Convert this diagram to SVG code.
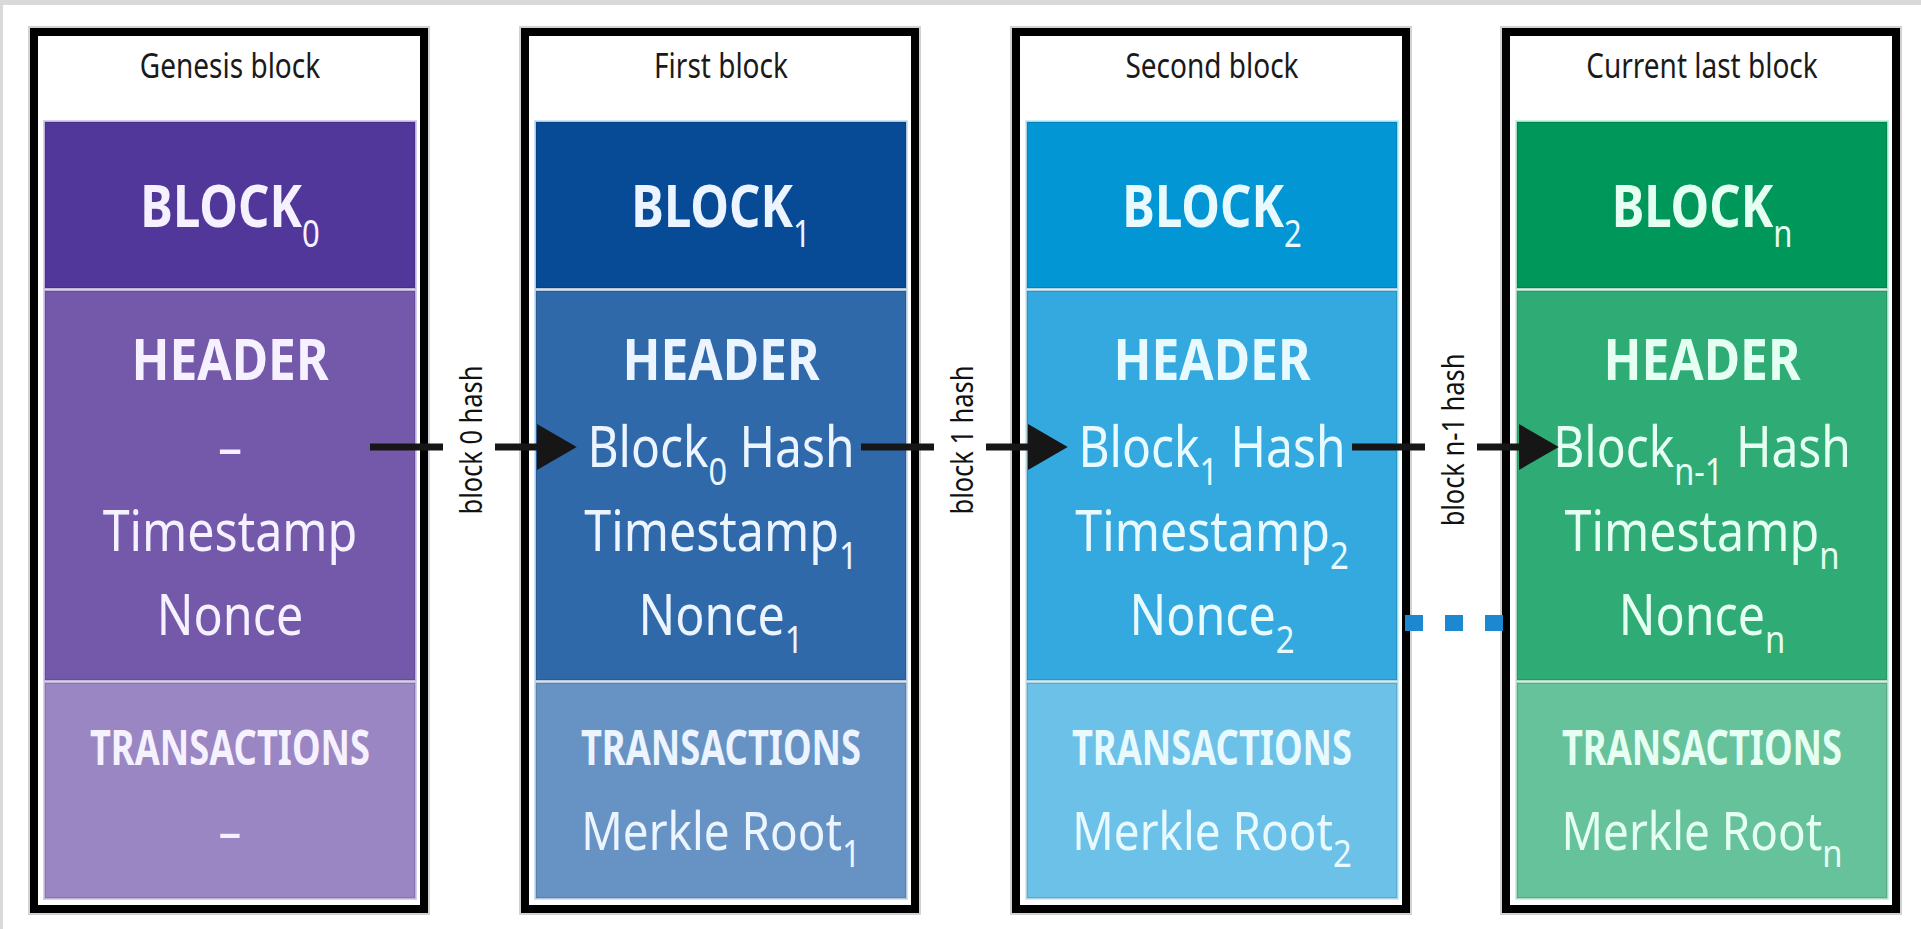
<svg xmlns="http://www.w3.org/2000/svg" width="1921" height="929" viewBox="0 0 1921 929">
<style>
.frame{fill:#fff;stroke:#000;stroke-width:8}
.shadow{fill:none;stroke:#d2d2d2;stroke-width:12}
.s1,.s2,.s3{stroke:rgba(0,0,0,0.12);stroke-width:2}
text{font-family:"Noto Sans","Liberation Sans",Arial,sans-serif;text-anchor:middle}
.title{font-size:35px;fill:#1a1a1a}
.big{font-size:60px;font-weight:bold}
.hd{font-size:57px;font-weight:bold}
.tx{font-size:48px;font-weight:bold}
.rg{font-size:56px}
.mk{font-size:53px}
.sub{font-size:38px;font-weight:normal}
.lbl{font-size:31px;fill:#111}
.ln{fill:none;stroke:#161616;stroke-width:7}
.dots{fill:none;stroke:#1c88cf;stroke-width:16;stroke-dasharray:18 22}
.b0 .tint{fill:#d9cdf5}.b0 .s1{fill:#52379a}.b0 .s2{fill:#7459ab}.b0 .s3{fill:#9a86c3}.b0 .w{fill:#f6f1ff}
.b1 .tint{fill:#cfe3f8}.b1 .s1{fill:#074a96}.b1 .s2{fill:#2f69aa}.b1 .s3{fill:#6793c4}.b1 .w{fill:#ebf4ff}
.b2 .tint{fill:#c8f0ff}.b2 .s1{fill:#0396d5}.b2 .s2{fill:#33a9df}.b2 .s3{fill:#6cc1e9}.b2 .w{fill:#e9faff}
.b3 .tint{fill:#c6f5e0}.b3 .s1{fill:#00975a}.b3 .s2{fill:#2fab76}.b3 .s3{fill:#66c29b}.b3 .w{fill:#e6fff3}
</style>
<defs>
<marker id="ah" markerUnits="userSpaceOnUse" markerWidth="40" markerHeight="46" viewBox="0 0 38 44" refX="0" refY="22" orient="auto">
<path d="M0 0L38 22L0 44Z" fill="#161616"/>
</marker>
</defs>
<rect x="0" y="0" width="1921" height="929" fill="#fff"/>
<rect x="0" y="0" width="1921" height="5" fill="#d9d9d9"/>
<rect x="0" y="0" width="3" height="929" fill="#d9d9d9"/>

<g id="block0" class="node b0" transform="translate(30 0)">
<rect class="shadow" x="4" y="32" width="390" height="877"/>
<rect class="frame" x="4" y="32" width="390" height="877"/>
<rect class="tint" x="13" y="120" width="374" height="780"/>
<rect class="s1" x="15" y="122" width="370" height="166"/>
<rect class="s2" x="15" y="291" width="370" height="389"/>
<rect class="s3" x="15" y="683" width="370" height="215"/>
<g transform="translate(200 0) scale(0.8 1)">
<text class="title" y="78">Genesis block</text>
<text class="big w" y="227" transform="scale(1.02 1)">BLOCK<tspan class="sub" dy="20">0</tspan></text>
<text class="hd w" y="380" transform="scale(1.09 1)">HEADER</text>
<text class="rg w" y="467" transform="scale(1.08 1)">–</text>
<text class="rg w" y="551" transform="scale(1.08 1)">Timestamp</text>
<text class="rg w" y="635" transform="scale(1.08 1)">Nonce</text>
<text class="tx w" y="765" transform="scale(0.945 1)">TRANSACTIONS</text>
<text class="mk w" y="850" transform="scale(1.08 1)">–</text>
</g>
</g>

<g id="block1" class="node b1" transform="translate(521 0)">
<rect class="shadow" x="4" y="32" width="390" height="877"/>
<rect class="frame" x="4" y="32" width="390" height="877"/>
<rect class="tint" x="13" y="120" width="374" height="780"/>
<rect class="s1" x="15" y="122" width="370" height="166"/>
<rect class="s2" x="15" y="291" width="370" height="389"/>
<rect class="s3" x="15" y="683" width="370" height="215"/>
<g transform="translate(200 0) scale(0.8 1)">
<text class="title" y="78">First block</text>
<text class="big w" y="227" transform="scale(1.02 1)">BLOCK<tspan class="sub" dy="20">1</tspan></text>
<text class="hd w" y="380" transform="scale(1.09 1)">HEADER</text>
<text class="rg w" y="467" transform="scale(1.07 1)">Block<tspan class="sub" dy="18">0</tspan><tspan dy="-18"> Hash</tspan></text>
<text class="rg w" y="551" transform="scale(1.08 1)">Timestamp<tspan class="sub" dy="18">1</tspan></text>
<text class="rg w" y="635" transform="scale(1.08 1)">Nonce<tspan class="sub" dy="18">1</tspan></text>
<text class="tx w" y="765" transform="scale(0.945 1)">TRANSACTIONS</text>
<text class="mk w" y="850" transform="scale(1.08 1)">Merkle Root<tspan class="sub" dy="17">1</tspan></text>
</g>
</g>

<g id="block2" class="node b2" transform="translate(1012 0)">
<rect class="shadow" x="4" y="32" width="390" height="877"/>
<rect class="frame" x="4" y="32" width="390" height="877"/>
<rect class="tint" x="13" y="120" width="374" height="780"/>
<rect class="s1" x="15" y="122" width="370" height="166"/>
<rect class="s2" x="15" y="291" width="370" height="389"/>
<rect class="s3" x="15" y="683" width="370" height="215"/>
<g transform="translate(200 0) scale(0.8 1)">
<text class="title" y="78">Second block</text>
<text class="big w" y="227" transform="scale(1.02 1)">BLOCK<tspan class="sub" dy="20">2</tspan></text>
<text class="hd w" y="380" transform="scale(1.09 1)">HEADER</text>
<text class="rg w" y="467" transform="scale(1.07 1)">Block<tspan class="sub" dy="18">1</tspan><tspan dy="-18"> Hash</tspan></text>
<text class="rg w" y="551" transform="scale(1.08 1)">Timestamp<tspan class="sub" dy="18">2</tspan></text>
<text class="rg w" y="635" transform="scale(1.08 1)">Nonce<tspan class="sub" dy="18">2</tspan></text>
<text class="tx w" y="765" transform="scale(0.945 1)">TRANSACTIONS</text>
<text class="mk w" y="850" transform="scale(1.08 1)">Merkle Root<tspan class="sub" dy="17">2</tspan></text>
</g>
</g>

<g id="block3" class="node b3" transform="translate(1502 0)">
<rect class="shadow" x="4" y="32" width="390" height="877"/>
<rect class="frame" x="4" y="32" width="390" height="877"/>
<rect class="tint" x="13" y="120" width="374" height="780"/>
<rect class="s1" x="15" y="122" width="370" height="166"/>
<rect class="s2" x="15" y="291" width="370" height="389"/>
<rect class="s3" x="15" y="683" width="370" height="215"/>
<g transform="translate(200 0) scale(0.8 1)">
<text class="title" y="78">Current last block</text>
<text class="big w" y="227" transform="scale(1.02 1)">BLOCK<tspan class="sub" dy="20">n</tspan></text>
<text class="hd w" y="380" transform="scale(1.09 1)">HEADER</text>
<text class="rg w" y="467" transform="scale(1.07 1)">Block<tspan class="sub" dy="18">n-1</tspan><tspan dy="-18"> Hash</tspan></text>
<text class="rg w" y="551" transform="scale(1.08 1)">Timestamp<tspan class="sub" dy="18">n</tspan></text>
<text class="rg w" y="635" transform="scale(1.08 1)">Nonce<tspan class="sub" dy="18">n</tspan></text>
<text class="tx w" y="765" transform="scale(0.945 1)">TRANSACTIONS</text>
<text class="mk w" y="850" transform="scale(1.08 1)">Merkle Root<tspan class="sub" dy="17">n</tspan></text>
</g>
</g>

<g id="connectors">
<path class="ln" d="M370 447H443M495 447H537" marker-end="url(#ah)"/>
<path class="ln" d="M861 447H934M986 447H1028" marker-end="url(#ah)"/>
<path class="ln" d="M1352 447H1425M1477 447H1519" marker-end="url(#ah)"/>
<path class="dots" d="M1405 623H1503"/>
<text class="lbl" transform="translate(482 440) rotate(-90) scale(0.82 1)">block 0 hash</text>
<text class="lbl" transform="translate(973 440) rotate(-90) scale(0.82 1)">block 1 hash</text>
<text class="lbl" transform="translate(1464 440) rotate(-90) scale(0.82 1)">block n-1 hash</text>
</g>
</svg>
